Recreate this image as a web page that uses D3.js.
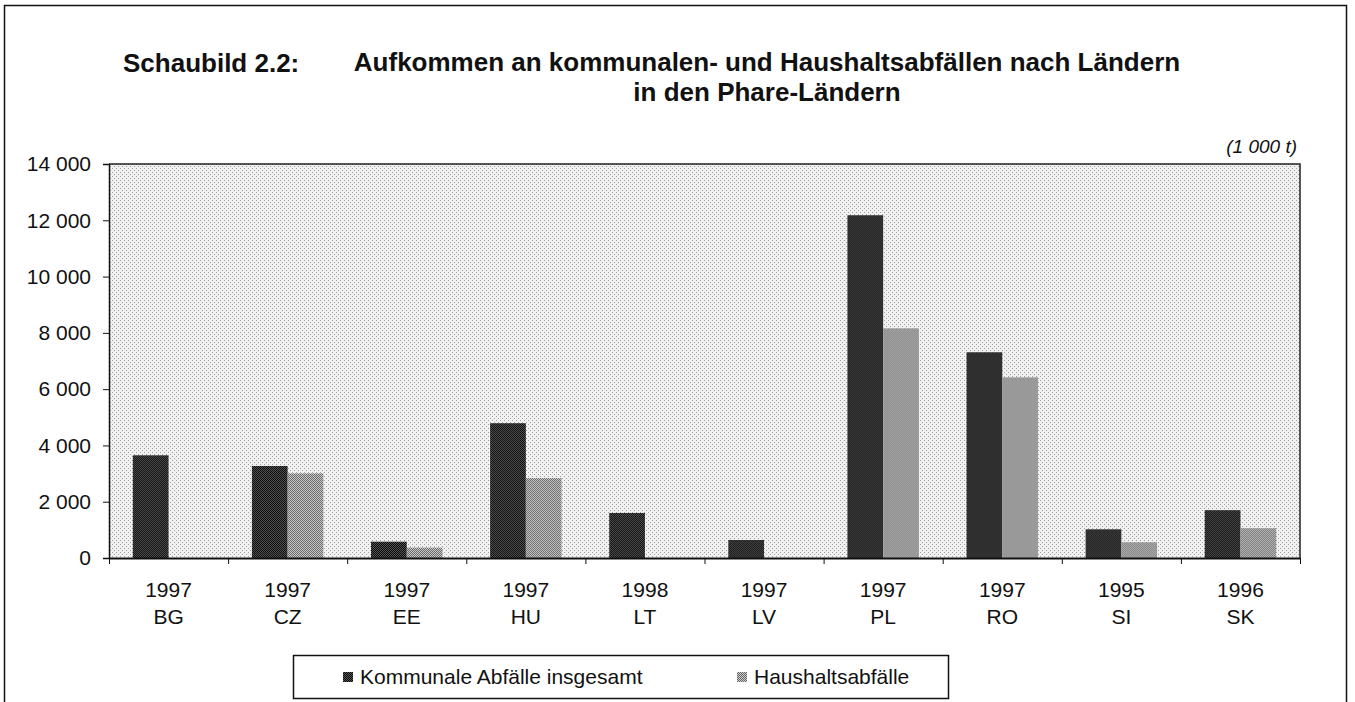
<!DOCTYPE html>
<html>
<head>
<meta charset="utf-8">
<script src="https://cdn.jsdelivr.net/npm/d3@7"></script>
<style>
	body { margin: 0; background: #fff; }
	svg text { font-family: "Liberation Sans", Arial, sans-serif; fill: #111; }
</style>
</head>
<body>
<div id="chart"></div>
<script>
'use strict';

// data (1 000 t)
const countries = ['BG', 'CZ', 'EE', 'HU', 'LT', 'LV', 'PL', 'RO', 'SI', 'SK'];
const years = ['1997', '1997', '1997', '1997', '1998', '1997', '1997', '1997', '1995', '1996'];
const kommunal = [3650, 3270, 580, 4790, 1600, 640, 12180, 7310, 1020, 1700];
const haushalt = [null, 3010, 370, 2840, null, null, 8160, 6420, 560, 1060];
const seriesNames = ['Kommunale Abfälle insgesamt', 'Haushaltsabfälle'];
const yTicks = [0, 2000, 4000, 6000, 8000, 10000, 12000, 14000];

const W = 1355, H = 702;
const plot = { left: 109, right: 1300, top: 164, bottom: 558 };

const svg = d3.select('#chart').append('svg')
	.attr('width', W)
	.attr('height', H);

// halftone-like fills
const defs = svg.append('defs');
function dotPattern(id, size, bg, dots, dotColor) {
	let p = defs.append('pattern')
		.attr('id', id)
		.attr('width', size)
		.attr('height', size)
		.attr('patternUnits', 'userSpaceOnUse');
	p.append('rect').attr('width', size).attr('height', size).attr('fill', bg);
	dots.forEach(d => {
		p.append('rect').attr('x', d[0]).attr('y', d[1]).attr('width', 1).attr('height', 1).attr('fill', dotColor);
	});
}
dotPattern('bgFill', 4, '#f1f1f1', [[0, 0], [2, 2]], '#a0a0a0');
dotPattern('darkFill', 2, '#555555', [[0, 0], [1, 1]], '#0a0a0a');
dotPattern('lightFill', 2, '#cccccc', [[0, 0], [1, 1]], '#666666');
const fills = ['url(#darkFill)', 'url(#lightFill)'];

// outer frame
svg.append('rect')
	.attr('x', 4.5).attr('y', 5.5)
	.attr('width', 1342).attr('height', 720)
	.attr('fill', 'none')
	.attr('stroke', '#111')
	.attr('stroke-width', 1.5);

// title
svg.append('text')
	.attr('x', 123).attr('y', 72)
	.attr('font-size', 26).attr('font-weight', 'bold')
	.text('Schaubild 2.2:');
svg.append('text')
	.attr('x', 767).attr('y', 71)
	.attr('text-anchor', 'middle')
	.attr('font-size', 26).attr('font-weight', 'bold')
	.text('Aufkommen an kommunalen- und Haushaltsabfällen nach Ländern');
svg.append('text')
	.attr('x', 767).attr('y', 101)
	.attr('text-anchor', 'middle')
	.attr('font-size', 26).attr('font-weight', 'bold')
	.text('in den Phare-Ländern');

svg.append('text')
	.attr('x', 1297).attr('y', 153)
	.attr('text-anchor', 'end')
	.attr('font-size', 19).attr('font-style', 'italic')
	.text('(1 000 t)');

// scales
const pad = 0.4;
const x0 = d3.scaleBand()
	.domain(countries)
	.range([plot.left, plot.right])
	.paddingInner(pad)
	.paddingOuter(pad / 2);
const x1 = d3.scaleBand()
	.domain([0, 1])
	.range([0, x0.bandwidth()]);
const xEdge = d3.scaleLinear()
	.domain([0, countries.length])
	.range([plot.left, plot.right]);
const y = d3.scaleLinear()
	.domain([0, 14000])
	.range([plot.bottom, plot.top]);

const fmt = d3.formatLocale({ decimal: ',', thousands: ' ', grouping: [3], currency: ['', ''] }).format(',');

// plot background
svg.append('rect')
	.attr('x', plot.left).attr('y', plot.top)
	.attr('width', plot.right - plot.left)
	.attr('height', plot.bottom - plot.top)
	.attr('fill', 'url(#bgFill)');

// bars
const groups = svg.append('g').selectAll('g')
	.data(countries)
	.join('g')
	.attr('transform', d => 'translate(' + x0(d) + ',0)');

groups.selectAll('rect')
	.data((d, i) => [kommunal[i], haushalt[i]].map((v, s) => ({ s: s, v: v })).filter(e => e.v !== null))
	.join('rect')
	.attr('x', d => x1(d.s))
	.attr('width', x1.bandwidth())
	.attr('y', d => y(d.v))
	.attr('height', d => y(0) - y(d.v))
	.attr('fill', d => fills[d.s]);

// plot border (top, right)
svg.append('path')
	.attr('d', 'M' + plot.left + ',' + plot.top + 'H' + plot.right + 'V' + plot.bottom)
	.attr('fill', 'none')
	.attr('stroke', '#222')
	.attr('stroke-width', 1.5);

// y axis
const yAxis = svg.append('g')
	.attr('transform', 'translate(' + plot.left + ',0)')
	.call(d3.axisLeft(y).tickValues(yTicks).tickFormat(fmt).tickSize(6).tickPadding(12));
yAxis.select('.domain').attr('stroke', '#111').attr('stroke-width', 1.5);
yAxis.selectAll('.tick line').attr('stroke', '#111');
yAxis.selectAll('.tick text')
	.attr('font-size', 21)
	.attr('font-family', '"Liberation Sans", Arial, sans-serif')
	.attr('fill', '#111');

// x axis: ticks at category edges
const xAxis = svg.append('g')
	.attr('transform', 'translate(0,' + plot.bottom + ')')
	.call(d3.axisBottom(xEdge).tickValues(d3.range(countries.length + 1)).tickFormat('').tickSize(6).tickSizeOuter(0));
xAxis.select('.domain').attr('stroke', '#111').attr('stroke-width', 2);
xAxis.selectAll('.tick line').attr('stroke', '#111');

const labels = svg.append('g').selectAll('g')
	.data(countries)
	.join('g')
	.attr('transform', d => 'translate(' + (x0(d) + x0.bandwidth() / 2) + ',0)');
labels.append('text')
	.attr('y', 597)
	.attr('text-anchor', 'middle')
	.attr('font-size', 21)
	.text((d, i) => years[i]);
labels.append('text')
	.attr('y', 624)
	.attr('text-anchor', 'middle')
	.attr('font-size', 21)
	.text(d => d);

// legend
const legend = svg.append('g');
legend.append('rect')
	.attr('x', 293.5).attr('y', 655.5)
	.attr('width', 655).attr('height', 43)
	.attr('fill', '#fff')
	.attr('stroke', '#111')
	.attr('stroke-width', 1.5);
const legendX = [343, 737];
seriesNames.forEach((name, s) => {
	legend.append('rect')
		.attr('x', legendX[s]).attr('y', 672)
		.attr('width', 10).attr('height', 10)
		.attr('fill', fills[s]);
	legend.append('text')
		.attr('x', legendX[s] + 17).attr('y', 684)
		.attr('font-size', 21)
		.text(name);
});
</script>
</body>
</html>
